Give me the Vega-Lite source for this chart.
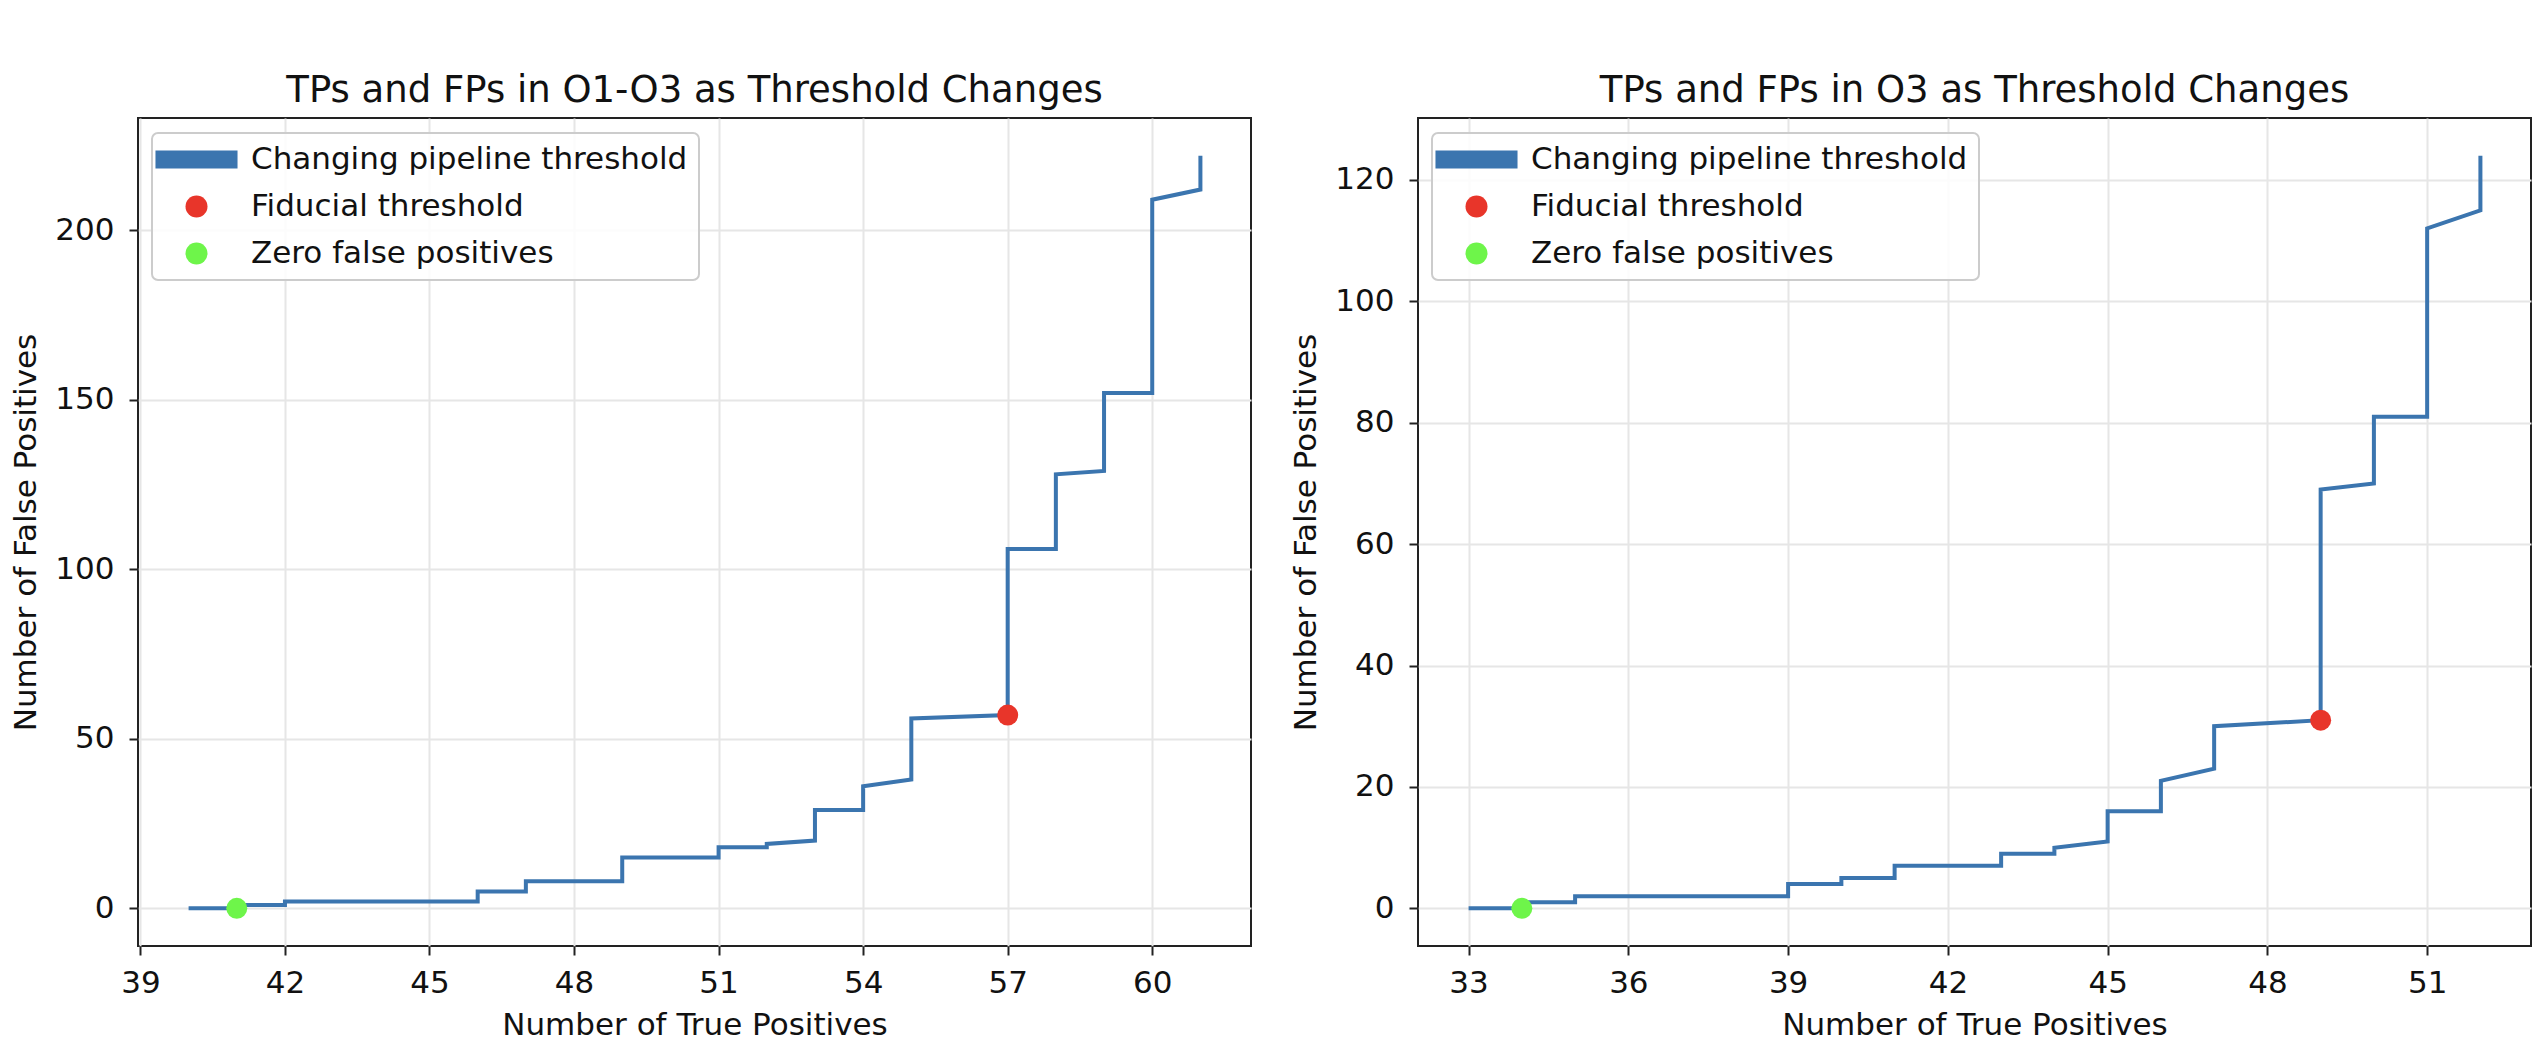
{
  "$schema": "https://vega.github.io/schema/vega-lite/v6.json",
  "background": "white",
  "padding": {"left": 9, "top": 71, "right": 4, "bottom": 4},
  "bounds": "flush",
  "spacing": 167,
  "datasets": {
    "left_line": [
      {"i": 1, "tp": 40, "fp": 0}, {"i": 2, "tp": 41, "fp": 0}, {"i": 3, "tp": 41, "fp": 1},
      {"i": 4, "tp": 42, "fp": 1}, {"i": 5, "tp": 42, "fp": 2}, {"i": 6, "tp": 46, "fp": 2},
      {"i": 7, "tp": 46, "fp": 5}, {"i": 8, "tp": 47, "fp": 5}, {"i": 9, "tp": 47, "fp": 8},
      {"i": 10, "tp": 49, "fp": 8}, {"i": 11, "tp": 49, "fp": 15}, {"i": 12, "tp": 51, "fp": 15},
      {"i": 13, "tp": 51, "fp": 18}, {"i": 14, "tp": 52, "fp": 18}, {"i": 15, "tp": 52, "fp": 19},
      {"i": 16, "tp": 53, "fp": 20}, {"i": 17, "tp": 53, "fp": 29}, {"i": 18, "tp": 54, "fp": 29},
      {"i": 19, "tp": 54, "fp": 36}, {"i": 20, "tp": 55, "fp": 38}, {"i": 21, "tp": 55, "fp": 56},
      {"i": 22, "tp": 57, "fp": 57}, {"i": 23, "tp": 57, "fp": 106}, {"i": 24, "tp": 58, "fp": 106},
      {"i": 25, "tp": 58, "fp": 128}, {"i": 26, "tp": 59, "fp": 129}, {"i": 27, "tp": 59, "fp": 152},
      {"i": 28, "tp": 60, "fp": 152}, {"i": 29, "tp": 60, "fp": 209}, {"i": 30, "tp": 61, "fp": 212},
      {"i": 31, "tp": 61, "fp": 222}
    ],
    "left_pts": [
      {"tp": 57, "fp": 57, "series": "Fiducial threshold"},
      {"tp": 41, "fp": 0, "series": "Zero false positives"}
    ],
    "right_line": [
      {"i": 1, "tp": 33, "fp": 0}, {"i": 2, "tp": 34, "fp": 0}, {"i": 3, "tp": 34, "fp": 1},
      {"i": 4, "tp": 35, "fp": 1}, {"i": 5, "tp": 35, "fp": 2}, {"i": 6, "tp": 39, "fp": 2},
      {"i": 7, "tp": 39, "fp": 4}, {"i": 8, "tp": 40, "fp": 4}, {"i": 9, "tp": 40, "fp": 5},
      {"i": 10, "tp": 41, "fp": 5}, {"i": 11, "tp": 41, "fp": 7}, {"i": 12, "tp": 43, "fp": 7},
      {"i": 13, "tp": 43, "fp": 9}, {"i": 14, "tp": 44, "fp": 9}, {"i": 15, "tp": 44, "fp": 10},
      {"i": 16, "tp": 45, "fp": 11}, {"i": 17, "tp": 45, "fp": 16}, {"i": 18, "tp": 46, "fp": 16},
      {"i": 19, "tp": 46, "fp": 21}, {"i": 20, "tp": 47, "fp": 23}, {"i": 21, "tp": 47, "fp": 30},
      {"i": 22, "tp": 49, "fp": 31}, {"i": 23, "tp": 49, "fp": 69}, {"i": 24, "tp": 50, "fp": 70},
      {"i": 25, "tp": 50, "fp": 81}, {"i": 26, "tp": 51, "fp": 81}, {"i": 27, "tp": 51, "fp": 112},
      {"i": 28, "tp": 52, "fp": 115}, {"i": 29, "tp": 52, "fp": 124}
    ],
    "right_pts": [
      {"tp": 49, "fp": 31, "series": "Fiducial threshold"},
      {"tp": 34, "fp": 0, "series": "Zero false positives"}
    ]
  },
  "config": {
    "font": "DejaVu Sans",
    "view": {"stroke": "#222222", "strokeWidth": 2},
    "axis": {
      "domain": false,
      "grid": true, "gridColor": "#e6e6e6", "gridWidth": 2,
      "ticks": true, "tickColor": "#222222", "tickWidth": 2, "tickSize": 9,
      "labelFont": "DejaVu Sans", "labelFontSize": 31, "labelColor": "#111111",
      "labelFlush": false, "labelOverlap": false,
      "titleFont": "DejaVu Sans", "titleFontSize": 31, "titleFontWeight": "normal", "titleColor": "#111111"
    },
    "axisX": {"labelPadding": 13, "titlePadding": 12},
    "axisY": {"labelPadding": 15, "titlePadding": 12},
    "title": {"font": "DejaVu Sans", "fontSize": 37, "fontWeight": "normal", "color": "#111111", "anchor": "middle", "offset": 8, "baseline": "alphabetic"},
    "legend": {
      "labelFont": "DejaVu Sans", "labelFontSize": 31, "labelColor": "#111111", "labelLimit": 1000,
      "symbolSize": 484, "symbolOpacity": 1, "symbolStrokeWidth": 0,
      "padding": 11, "rowPadding": 15, "symbolOffset": 18, "labelOffset": 39,
      "strokeColor": "#cccccc", "strokeWidth": 2, "fillColor": "rgba(255,255,255,0.85)", "cornerRadius": 6
    }
  },
  "resolve": {
    "scale": {"color": "independent", "shape": "independent"},
    "legend": {"color": "independent", "shape": "independent"}
  },
  "hconcat": [
    {
      "title": "TPs and FPs in O1-O3 as Threshold Changes",
      "width": 1113, "height": 828,
      "layer": [
        {
          "data": {"name": "left_line"},
          "mark": {"type": "line", "color": "#3b75af", "strokeWidth": 4},
          "encoding": {
            "x": {"field": "tp", "type": "quantitative", "scale": {"domain": [38.95, 62.05], "nice": false, "zero": false}, "axis": {"values": [39, 42, 45, 48, 51, 54, 57, 60], "title": "Number of True Positives"}},
            "y": {"field": "fp", "type": "quantitative", "scale": {"domain": [-11.1, 233.1], "nice": false, "zero": false}, "axis": {"values": [0, 50, 100, 150, 200], "title": "Number of False Positives"}},
            "order": {"field": "i", "type": "quantitative"}
          }
        },
        {
          "data": {"name": "left_pts"},
          "mark": {"type": "point", "filled": true, "opacity": 1, "size": 441, "strokeWidth": 0},
          "encoding": {
            "x": {"field": "tp", "type": "quantitative"},
            "y": {"field": "fp", "type": "quantitative"},
            "color": {"field": "series", "type": "nominal",
              "scale": {"domain": ["Changing pipeline threshold", "Fiducial threshold", "Zero false positives"], "range": ["#3b75af", "#e8352a", "#6ef54a"]},
              "legend": {"title": null, "orient": "none", "legendX": 14, "legendY": 15}},
            "shape": {"field": "series", "type": "nominal",
              "scale": {"domain": ["Changing pipeline threshold", "Fiducial threshold", "Zero false positives"], "range": ["M-3.73,-0.82H3.73V0.82H-3.73Z", "circle", "circle"]},
              "legend": {"title": null, "orient": "none", "legendX": 14, "legendY": 15}}
          }
        }
      ]
    },
    {
      "title": "TPs and FPs in O3 as Threshold Changes",
      "width": 1113, "height": 828,
      "layer": [
        {
          "data": {"name": "right_line"},
          "mark": {"type": "line", "color": "#3b75af", "strokeWidth": 4},
          "encoding": {
            "x": {"field": "tp", "type": "quantitative", "scale": {"domain": [32.05, 52.95], "nice": false, "zero": false}, "axis": {"values": [33, 36, 39, 42, 45, 48, 51], "title": "Number of True Positives"}},
            "y": {"field": "fp", "type": "quantitative", "scale": {"domain": [-6.2, 130.2], "nice": false, "zero": false}, "axis": {"values": [0, 20, 40, 60, 80, 100, 120], "title": "Number of False Positives"}},
            "order": {"field": "i", "type": "quantitative"}
          }
        },
        {
          "data": {"name": "right_pts"},
          "mark": {"type": "point", "filled": true, "opacity": 1, "size": 441, "strokeWidth": 0},
          "encoding": {
            "x": {"field": "tp", "type": "quantitative"},
            "y": {"field": "fp", "type": "quantitative"},
            "color": {"field": "series", "type": "nominal",
              "scale": {"domain": ["Changing pipeline threshold", "Fiducial threshold", "Zero false positives"], "range": ["#3b75af", "#e8352a", "#6ef54a"]},
              "legend": {"title": null, "orient": "none", "legendX": 14, "legendY": 15}},
            "shape": {"field": "series", "type": "nominal",
              "scale": {"domain": ["Changing pipeline threshold", "Fiducial threshold", "Zero false positives"], "range": ["M-3.73,-0.82H3.73V0.82H-3.73Z", "circle", "circle"]},
              "legend": {"title": null, "orient": "none", "legendX": 14, "legendY": 15}}
          }
        }
      ]
    }
  ]
}
